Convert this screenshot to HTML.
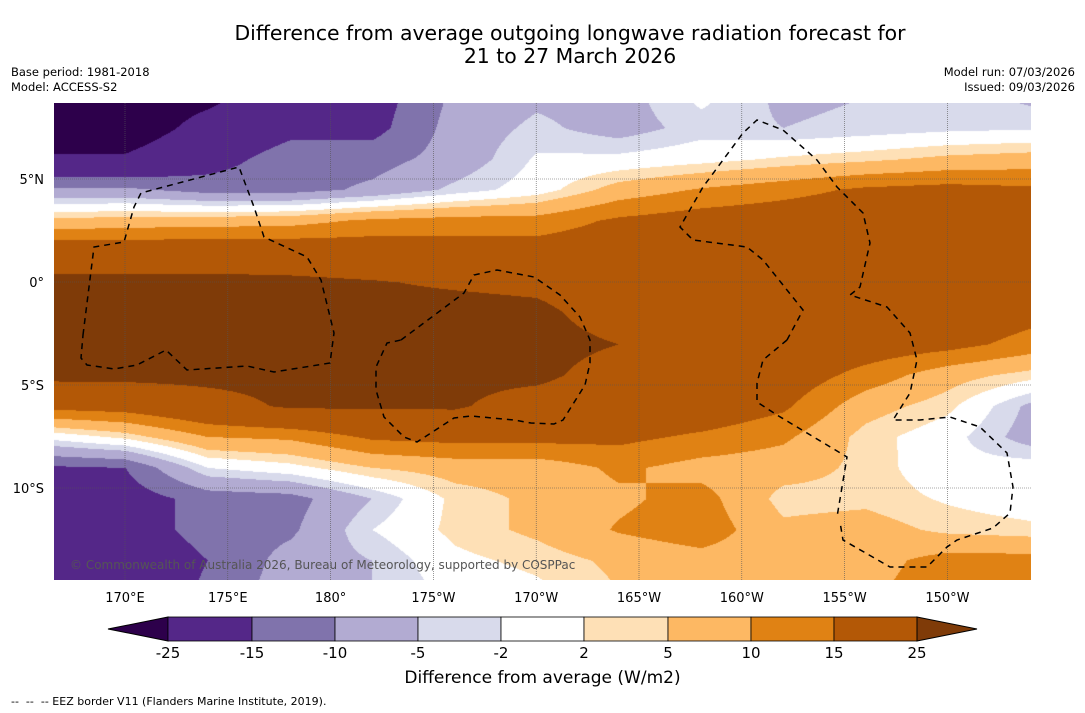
<!DOCTYPE html>
<html><head><meta charset="utf-8">
<style>
body{margin:0;background:#fff;width:1085px;height:713px;overflow:hidden;font-family:"DejaVu Sans","Liberation Sans",sans-serif;}
.t{position:absolute;color:#000;white-space:nowrap;}
</style></head>
<body>
<div class="t" style="left:0;width:1140px;top:22px;text-align:center;font-size:20.4px;line-height:23px;">Difference from average outgoing longwave radiation forecast for<br>21 to 27 March 2026</div>
<div class="t" style="left:11px;top:65px;font-size:11.5px;line-height:15px;">Base period: 1981-2018<br>Model: ACCESS-S2</div>
<div class="t" style="right:10px;top:65px;font-size:11.5px;line-height:15px;text-align:right;">Model run: 07/03/2026<br>Issued: 09/03/2026</div>
<canvas id="map" width="977" height="477" style="position:absolute;left:54px;top:103px;"></canvas>
<svg id="ov" width="1085" height="713" style="position:absolute;left:0;top:0;"></svg>
<div class="t" style="left:70px;top:558px;font-size:12px;color:#555;">© Commonwealth of Australia 2026, Bureau of Meteorology, supported by COSPPac</div>
<div class="t" style="left:0;width:1085px;top:668px;text-align:center;font-size:17px;">Difference from average (W/m2)</div>
<div class="t" style="left:11px;top:695px;font-size:11px;">--&nbsp; --&nbsp; -- EEZ border V11 (Flanders Marine Institute, 2019).</div>
<script>
const lons=[166,170,174,178,182,186,190,194,198,202,206,210,214];
const lats=[9,7.5,6,4.5,3,1.5,0,-1.5,-3,-4.5,-6,-7.5,-9,-10.5,-12,-13.5,-15];
const r0=[-30,-30,-27,-20,-18,-9,-6,-7,-1,-6,-5,-3,-6];
const r1=[-30,-30,-22,-17,-17,-8,-4,-7,-3.5,-5,-4,-3,-2.5];
const r2=[-24,-24,-18,-12,-12,-8,-1.5,-1,0.5,2.5,4,6,7];
const r3=[-9,-9,-12,-12,-9,-4,0,7,10.5,13,16,17,16];
const r4=[6,7,7.5,8,11,12,12,16,18,19,20,20,20];
const r5=[20,20,20,20,19,18,18,19,20,20,20,20,20];
const r6=[27,27,27,26.5,25.5,24,23,20,20,20,20,20,17];
const r7=[28,28,28,28,28,28,27,21,20,20,20,20,17];
const r8=[28,28,28,28,28,28,28,25,20,20,19,17,13];
const r9=[27,27,27,27,27,27,27,21,20,19,13,7,3.5];
const r10=[17,18,22,26,26,26,21,20,20,16,7,3,-6];
const r11=[-1,3,10,11,16,17,17,16.5,14,11,3.5,-0.5,-7];
const r12=[-16,-15,-2,0.5,5,7,7,11,8,7,4,-1,0];
const r13=[-20,-18,-13,-12,-5,3,6,9,12,3.5,4,1.5,-0.5];
const r14=[-17,-18,-13,-11,-2,3,6,10.5,13,6,7,4,3];
const r15=[-20,-20,-15,-8,-5,1,3,6,8,7,8,12,12];
const r16=[-20,-20,-14,-7,-5,-1,1,5,7,7,9,13,13];
const grid=[r0,r1,r2,r3,r4,r5,r6,r7,r8,r9,r10,r11,r12,r13,r14,r15,r16];
const levels=[-25,-15,-10,-5,-2,2,5,10,15,25];
const colors=["#2d004b","#542788","#8073ac","#b2abd2","#d8daeb","#ffffff","#fee0b6","#fdb863","#e08214","#b35806","#7f3b08"];
const tickLon=[170,175,180,185,190,195,200,205,210];
const tickLonLbl=["170°E","175°E","180°","175°W","170°W","165°W","160°W","155°W","150°W"];
const tickLat=[5,0,-5,-10];
const tickLatLbl=["5°N","0°","5°S","10°S"];
const cbLbl=["-25","-15","-10","-5","-2","2","5","10","15","25"];
const xOf=lon=>125+(lon-170)*20.56;
const yOf=lat=>282-lat*20.6;
function rgb(h){return [parseInt(h.slice(1,3),16),parseInt(h.slice(3,5),16),parseInt(h.slice(5,7),16)];}
const rgbs=colors.map(rgb);
const cv=document.getElementById('map'),ctx=cv.getContext('2d');
const img=ctx.createImageData(977,477);
for(let py=0;py<477;py++){
 const lat=(282-(py+103))/20.6;
 let fj=(lats[0]-lat)/1.5; fj=Math.max(0,Math.min(lats.length-1.001,fj));
 const j=Math.floor(fj),ty=fj-j;
 for(let px=0;px<977;px++){
  const lon=170+((px+54)-125)/20.56;
  let fi=(lon-lons[0])/4; fi=Math.max(0,Math.min(lons.length-1.001,fi));
  const i=Math.floor(fi),tx=fi-i;
  const v=(grid[j][i]*(1-tx)+grid[j][i+1]*tx)*(1-ty)+(grid[j+1][i]*(1-tx)+grid[j+1][i+1]*tx)*ty;
  let b=0;while(b<levels.length&&v>=levels[b])b++;
  const c=rgbs[b],k=(py*977+px)*4;
  img.data[k]=c[0];img.data[k+1]=c[1];img.data[k+2]=c[2];img.data[k+3]=255;
 }
}
ctx.putImageData(img,0,0);
const NS='http://www.w3.org/2000/svg',svg=document.getElementById('ov');
function mk(tag,attrs){const e=document.createElementNS(NS,tag);for(const k in attrs)e.setAttribute(k,attrs[k]);svg.appendChild(e);return e;}
tickLon.forEach((lon,i)=>{
 const x=xOf(lon);
 const g=mk('line',{x1:x,x2:x,y1:103,y2:580,stroke:'#555','stroke-width':0.6,'stroke-dasharray':'1,1'});
 
 
 const t=mk('text',{x:x,y:602,'text-anchor':'middle','font-size':13,'font-family':'DejaVu Sans,Liberation Sans,sans-serif'});
 t.textContent=tickLonLbl[i];
 
 
});
tickLat.forEach((lat,i)=>{
 const y=yOf(lat);
 const g=mk('line',{x1:54,x2:1031,y1:y,y2:y,stroke:'#555','stroke-width':0.6,'stroke-dasharray':'1,1'});
 
 
 const t=mk('text',{x:44,y:y+5,'text-anchor':'end','font-size':13,'font-family':'DejaVu Sans,Liberation Sans,sans-serif'});
 t.textContent=tickLatLbl[i];
 
 
});
const eez=[
 [[83,335],[94,247],[124,242],[134,207],[141,193],[239,167],[254,207],[264,237],[307,257],[321,280],[334,333],[330,363],[274,372],[247,366],[187,370],[166,350],[137,365],[114,369],[87,365],[81,358],[83,335]],
 [[401,340],[464,293],[474,275],[497,270],[534,277],[560,295],[580,317],[590,340],[590,363],[585,385],[563,420],[554,424],[531,423],[514,420],[471,416],[454,418],[417,442],[404,437],[384,417],[376,390],[376,367],[387,343],[401,340]],
 [[787,340],[803,310],[763,260],[747,247],[693,240],[680,227],[703,187],[743,133],[757,120],[783,130],[817,160],[837,187],[863,213],[870,243],[860,287],[850,295],[887,307],[910,333],[917,360],[910,393],[893,420],[920,420],[950,417],[980,427],[1007,453],[1013,487],[1010,513],[993,528],[957,540],[947,547],[927,567],[890,567],[843,540],[840,522]],
 [[787,340],[763,360],[757,383],[757,402],[777,415],[847,457],[837,517]]
];
eez.forEach(p=>{
 const e=mk('polyline',{points:p.map(q=>q.join(',')).join(' '),fill:'none',stroke:'#000','stroke-width':1.5,'stroke-dasharray':'6,5'});
 
 
});
const cbX=[168,252,335,418,501,584,668,751,834,917];
const cbTop=617,cbBot=641;
let el=mk('polygon',{points:`108,629 168,${cbTop} 168,${cbBot}`,fill:colors[0],stroke:'#000','stroke-width':1});


for(let k=0;k<9;k++){
 el=mk('rect',{x:cbX[k],y:cbTop,width:cbX[k+1]-cbX[k],height:cbBot-cbTop,fill:colors[k+1],stroke:'#000','stroke-width':0.8});
 
 
}
el=mk('polygon',{points:`917,${cbTop} 977,629 917,${cbBot}`,fill:colors[10],stroke:'#000','stroke-width':1});


cbX.forEach((x,k)=>{
 const t=mk('text',{x:x,y:658,'text-anchor':'middle','font-size':15,'font-family':'DejaVu Sans,Liberation Sans,sans-serif'});
 t.textContent=cbLbl[k];
 
 
});
</script>
</body></html>
